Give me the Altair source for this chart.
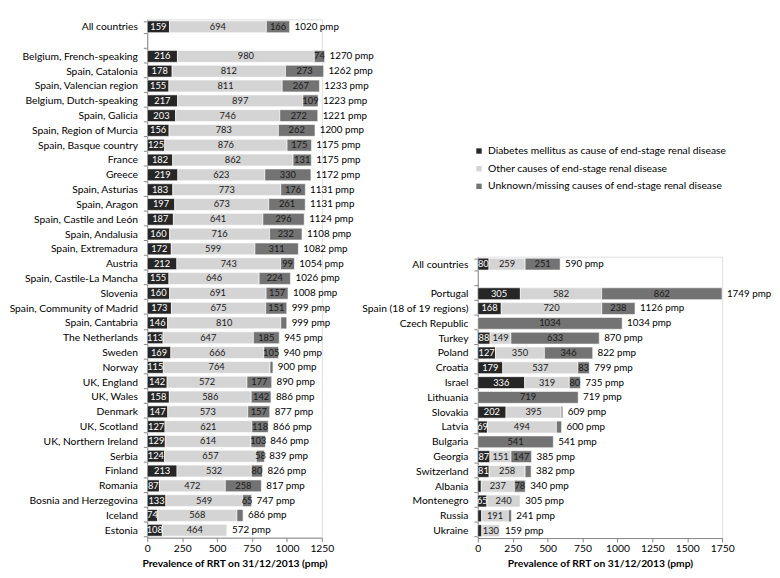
import altair as alt
import pandas as pd

causes = [
    "Diabetes mellitus as cause of end-stage renal disease",
    "Other causes of end-stage renal disease",
    "Unknown/missing causes of end-stage renal disease",
]
cause_colors = ["#262626", "#d4d4d4", "#737373"]

left_countries = [
    "All countries", "Belgium, French-speaking", "Spain, Catalonia", "Spain, Valencian region",
    "Belgium, Dutch-speaking", "Spain, Galicia", "Spain, Region of Murcia", "Spain, Basque country",
    "France", "Greece", "Spain, Asturias", "Spain, Aragon", "Spain, Castile and León",
    "Spain, Andalusia", "Spain, Extremadura", "Austria", "Spain, Castile-La Mancha", "Slovenia",
    "Spain, Community of Madrid", "Spain, Cantabria", "The Netherlands", "Sweden", "Norway",
    "UK, England", "UK, Wales", "Denmark", "UK, Scotland", "UK, Northern Ireland", "Serbia",
    "Finland", "Romania", "Bosnia and Herzegovina", "Iceland", "Estonia",
]
left_diabetes = [159, 216, 178, 155, 217, 203, 156, 125, 182, 219, 183, 197, 187, 160, 172, 212, 155,
                 160, 173, 146, 113, 169, 115, 142, 158, 147, 127, 129, 124, 213, 87, 133, 74, 108]
left_other = [694, 980, 812, 811, 897, 746, 783, 876, 862, 623, 773, 673, 641, 716, 599, 743, 646,
              691, 675, 810, 647, 666, 764, 572, 586, 573, 621, 614, 657, 532, 472, 549, 568, 464]
left_unknown = [166, 74, 273, 267, 109, 272, 262, 175, 131, 330, 176, 261, 296, 232, 311, 99, 224,
                157, 151, 43, 185, 105, 21, 177, 142, 157, 118, 103, 58, 80, 258, 65, 44, 0]
left_total = [1020, 1270, 1262, 1233, 1223, 1221, 1200, 1175, 1175, 1172, 1131, 1131, 1124, 1108,
              1082, 1054, 1026, 1008, 999, 999, 945, 940, 900, 890, 886, 877, 866, 846, 839, 826,
              817, 747, 686, 572]

right_countries = [
    "All countries", "Portugal", "Spain (18 of 19 regions)", "Czech Republic", "Turkey", "Poland",
    "Croatia", "Israel", "Lithuania", "Slovakia", "Latvia", "Bulgaria", "Georgia", "Switzerland",
    "Albania", "Montenegro", "Russia", "Ukraine",
]
right_diabetes = [80, 305, 168, 0, 88, 127, 179, 336, 0, 202, 69, 0, 87, 81, 25, 65, 28, 29]
right_other = [259, 582, 720, 0, 149, 350, 537, 319, 0, 395, 494, 0, 151, 258, 237, 240, 191, 130]
right_unknown = [251, 862, 238, 1034, 633, 346, 83, 80, 719, 12, 37, 541, 147, 43, 78, 0, 22, 0]
right_total = [590, 1749, 1126, 1034, 870, 822, 799, 735, 719, 609, 600, 541, 385, 382, 340, 305,
               241, 159]

x_title = "Prevalence of RRT on 31/12/2013 (pmp)"
left_ticks = [0, 250, 500, 750, 1000, 1250]
right_ticks = [0, 250, 500, 750, 1000, 1250, 1500, 1750]

STEP = 15.1
FONT = "Lato"


def long_df(countries, d, o, u):
    rows = []
    for i, c in enumerate(countries):
        for k, v in enumerate((d[i], o[i], u[i])):
            rows.append({"country": c, "cause": causes[k], "order": k, "value": v})
    return pd.DataFrame(rows)


def total_df(countries, t):
    return pd.DataFrame({"country": countries, "total": t,
                         "label": [f"{v} pmp" for v in t]})


def panel(countries, d, o, u, t, xmax, ticks):
    domain = [countries[0], " "] + countries[1:]
    n = len(domain)
    y = alt.Y("country:N", sort=None, title=None,
              scale=alt.Scale(domain=domain, paddingInner=0.2, paddingOuter=0.1),
              axis=alt.Axis(domainColor="#868686", tickColor="#868686", tickBand="extent",
                            tickSize=4, labelPadding=6, labelFontSize=10.5, labelColor="#000",
                            labelFont=FONT, labelLimit=300))
    xscale = alt.Scale(domain=[0, xmax], nice=False, zero=True)
    xaxis = alt.Axis(values=ticks, format="d", labelOverlap=False, labelFlush=False,
                     title=x_title, grid=False, domainColor="#868686",
                     tickColor="#868686", tickSize=4, labelFontSize=10.5,
                     labelColor="#000", labelFont=FONT, titleFont=FONT,
                     titleFontSize=10.5, titleFontWeight="bold", titleColor="#000",
                     titlePadding=5, labelPadding=2)
    base = (alt.Chart(long_df(countries, d, o, u))
            .transform_stack(stack="value", groupby=["country"], as_=["x0", "x1"],
                             sort=[alt.SortField("order", order="ascending")])
            .transform_calculate(mid="(datum.x0 + datum.x1) / 2",
                                 tc="datum.order == 0 ? 'white' : '#1a1a1a'"))
    bars = base.mark_bar(stroke="white", strokeWidth=0.6).encode(
        y=y,
        x=alt.X("x0:Q", scale=xscale, axis=xaxis, title=x_title),
        x2="x1:Q",
        color=alt.Color("cause:N", scale=alt.Scale(domain=causes, range=cause_colors),
                        legend=None),
    )
    labels = base.transform_filter("datum.value >= 50").mark_text(
        fontSize=9.5, font=FONT).encode(
        y=y, x=alt.X("mid:Q", scale=xscale, axis=xaxis, title=x_title), text="value:Q",
        color=alt.Color("tc:N", scale=None))
    totals = alt.Chart(total_df(countries, t)).mark_text(
        align="left", dx=5, fontSize=10, font=FONT, color="#000").encode(
        y=y, x=alt.X("total:Q", scale=xscale, axis=xaxis, title=x_title), text="label:N")
    width = xmax * 178 / 1250
    return alt.layer(bars, labels, totals).properties(width=width, height=n * STEP)


left = panel(left_countries, left_diabetes, left_other, left_unknown, left_total, 1250,
             left_ticks)
right = panel(right_countries, right_diabetes, right_other, right_unknown, right_total, 1750,
              right_ticks)

legend_df = pd.DataFrame({"cause": causes})
spacer = alt.Chart(legend_df).mark_square(opacity=0).encode(
    color=alt.Color("cause:N", scale=alt.Scale(domain=causes, range=cause_colors),
                    legend=alt.Legend(title=None, orient="none", legendX=-4, legendY=129,
                                      symbolType="square", symbolSize=30, symbolOpacity=1,
                                      symbolStrokeWidth=0, labelFont=FONT, labelFontSize=10.5,
                                      labelColor="#000", rowPadding=7, labelOffset=4,
                                      labelLimit=400))
).properties(width=250, height=16 * STEP)

right_col = alt.vconcat(spacer, right, spacing=0, bounds="flush")

chart = (alt.hconcat(left, right_col, spacing=159, bounds="flush")
         .resolve_scale(color="independent")
         .properties(padding={"left": 0, "top": 0, "right": 0, "bottom": 0})
         .configure_view(stroke=None)
         .configure(font=FONT))

chart.save("out.html", embed_options={"renderer": "svg", "actions": False})
